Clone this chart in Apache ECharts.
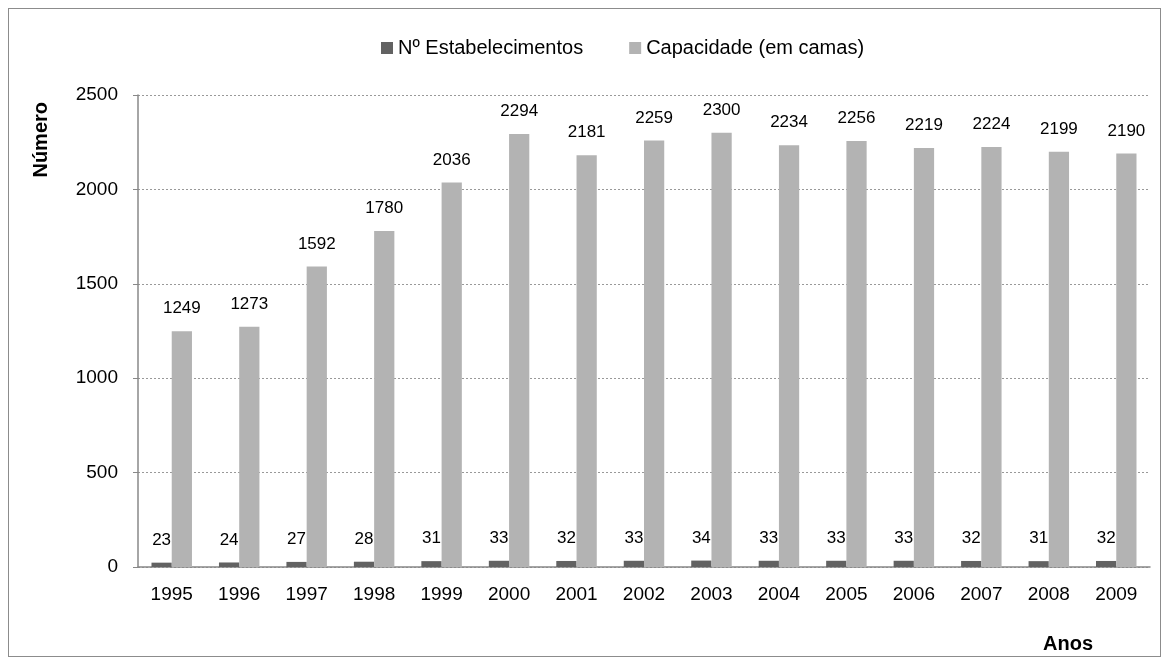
<!DOCTYPE html>
<html lang="pt">
<head>
  <meta charset="utf-8" />
  <title>Estabelecimentos e capacidade</title>
  <script src="https://cdn.jsdelivr.net/npm/echarts@6/dist/echarts.min.js"></script>
  <style>
    html, body { margin: 0; padding: 0; background: #fff; }
    #frame {
      position: absolute; left: 8px; top: 8px;
      width: 1151px; height: 647px;
      border: 1px solid #8c8c8c;
    }
    #main { position: absolute; left: 0; top: 0; width: 1169px; height: 664px; }
  </style>
</head>
<body>
<div id="frame"></div>
<div id="main"></div>
<script>
  let anos = ['1995','1996','1997','1998','1999','2000','2001','2002','2003','2004','2005','2006','2007','2008','2009']
  let estabelecimentos = [23, 24, 27, 28, 31, 33, 32, 33, 34, 33, 33, 33, 32, 31, 32]
  let capacidade = [1249, 1273, 1592, 1780, 2036, 2294, 2181, 2259, 2300, 2234, 2256, 2219, 2224, 2199, 2190]

  let fontFam = 'Arial, "Liberation Sans", sans-serif'
  let colorDark = '#626262'
  let colorLight = '#b3b3b3'

  let chart = echarts.init(document.getElementById('main'))

  chart.setOption({
    animation: false,
    textStyle: { fontFamily: fontFam },
    legend: {
      top: 33,
      left: 376,
      itemWidth: 12,
      itemHeight: 12,
      itemGap: 46,
      icon: 'rect',
      textStyle: { fontSize: 20, color: '#000', fontFamily: fontFam },
      data: ['Nº Estabelecimentos', 'Capacidade (em camas)']
    },
    grid: { left: 138, right: 19, top: 95, bottom: 97 },
    xAxis: {
      type: 'category',
      data: anos,
      axisLine: { lineStyle: { color: '#888', width: 1.5 } },
      axisTick: { show: false },
      axisLabel: { fontSize: 19, color: '#000', margin: 18 }
    },
    yAxis: {
      type: 'value',
      min: 0,
      max: 2500,
      interval: 500,
      axisLine: { show: true, lineStyle: { color: '#888', width: 1.5 } },
      axisTick: { show: true, length: 5, lineStyle: { color: '#888' } },
      axisLabel: { fontSize: 19, color: '#000', margin: 20, formatter: v => String(v) },
      splitLine: { lineStyle: { color: '#999', type: [2, 2] } }
    },
    series: [
      {
        name: 'Nº Estabelecimentos',
        type: 'bar',
        data: estabelecimentos,
        barGap: '0%',
        barCategoryGap: '40%',
        itemStyle: { color: colorDark },
        label: { show: true, position: 'top', distance: 14, fontSize: 17, color: '#000' }
      },
      {
        name: 'Capacidade (em camas)',
        type: 'bar',
        data: capacidade,
        barGap: '0%',
        barCategoryGap: '40%',
        itemStyle: { color: colorLight },
        label: { show: true, position: 'top', distance: 14, fontSize: 17, color: '#000' }
      }
    ],
    graphic: [
      {
        type: 'text',
        left: 31,
        top: 102,
        rotation: Math.PI / 2,
        style: { text: 'Número', font: 'bold 20px ' + fontFam, fill: '#000' }
      },
      {
        type: 'text',
        left: 1043,
        top: 634,
        style: { text: 'Anos', font: 'bold 20px ' + fontFam, fill: '#000' }
      }
    ]
  })
</script>
</body>
</html>
